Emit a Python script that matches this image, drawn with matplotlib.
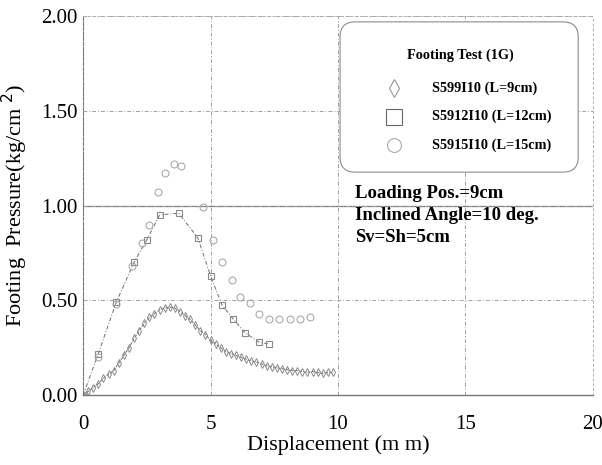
import matplotlib
matplotlib.use("Agg")
import matplotlib.pyplot as plt
from matplotlib.patches import FancyBboxPatch

# ---- data ----
x_l9 = [0, 0.2, 0.4, 0.6, 0.8, 1.0, 1.2, 1.4, 1.6, 1.8, 2.0, 2.2, 2.4, 2.6, 2.8, 3.0,
        3.2, 3.4, 3.6, 3.8, 4.0, 4.2, 4.4, 4.6, 4.8, 5.0, 5.2, 5.4, 5.6, 5.8, 6.0, 6.2,
        6.4, 6.6, 6.8, 7.0, 7.2, 7.4, 7.6, 7.8, 8.0, 8.2, 8.4, 8.6, 8.8, 9.0, 9.2, 9.4,
        9.6, 9.8]
p_l9 = [0, 0.02, 0.04, 0.06, 0.09, 0.11, 0.13, 0.17, 0.21, 0.25, 0.30, 0.34, 0.38, 0.41,
        0.43, 0.45, 0.46, 0.465, 0.46, 0.44, 0.42, 0.40, 0.37, 0.34, 0.32, 0.29, 0.27,
        0.25, 0.23, 0.22, 0.21, 0.20, 0.19, 0.18, 0.175, 0.165, 0.155, 0.15, 0.145, 0.14,
        0.135, 0.13, 0.13, 0.125, 0.12, 0.125, 0.12, 0.115, 0.12, 0.12]

x_l12 = [0, 0.6, 1.3, 2.0, 2.5, 3.0, 3.75, 4.5, 5.0, 5.45, 5.9, 6.35, 6.9, 7.3]
p_l12 = [0, 0.22, 0.49, 0.70, 0.82, 0.95, 0.96, 0.83, 0.63, 0.475, 0.40, 0.33, 0.28, 0.27]

x_l15 = [0, 0.6, 1.3, 1.9, 2.3, 2.6, 2.95, 3.2, 3.55, 3.85, 4.7, 5.1, 5.45, 5.85, 6.15,
         6.55, 6.9, 7.3, 7.7, 8.1, 8.5, 8.9]
p_l15 = [0, 0.20, 0.48, 0.68, 0.80, 0.90, 1.07, 1.17, 1.22, 1.21, 0.99, 0.82, 0.70, 0.61,
         0.52, 0.485, 0.43, 0.40, 0.40, 0.40, 0.40, 0.41]

labels = ["S599I10 (L=9cm)", "S5912I10 (L=12cm)", "S5915I10 (L=15cm)"]
legend_title = "Footing Test (1G)"
notes = ["Loading Pos.=9cm", "Inclined Angle=10 deg.", "Sv=Sh=5cm"]
xticks = [0, 5, 10, 15, 20]
yticks = [0.0, 0.5, 1.0, 1.5, 2.0]

plt.rcParams['font.family'] = ['Liberation Serif', 'DejaVu Serif']

fig = plt.figure(figsize=(6.02, 4.65), dpi=100)
ax = fig.add_axes([0.138, 0.150, 0.847, 0.816])

mk = '#8a8a8a'
ln = '#6a6a6a'
ax.plot(x_l9, p_l9, linestyle=(0, (3, 1.5)), color=ln, lw=0.7,
        marker='d', ms=4, mfc='none', mec=mk, mew=0.7)
ax.plot(x_l12, p_l12, linestyle=(0, (4, 2, 1, 2)), color=ln, lw=0.7,
        marker='s', ms=5, mfc='none', mec=mk, mew=0.8)
ax.plot(x_l15, p_l15, linestyle='none', color=ln, lw=0.7,
        marker='o', ms=5, mfc='none', mec='#a0a0a0', mew=0.7)

ax.set_xlim(0, 20)
ax.set_ylim(0, 2.0)
ax.set_xticks(xticks)
ax.set_xticklabels([str(t) for t in xticks])
ax.set_yticks(yticks)
ax.set_yticklabels([f"{t:.2f}" for t in yticks])
ax.tick_params(length=0, labelsize=15)
ax.tick_params(axis='x', pad=14)
ax.tick_params(axis='y', pad=4)

ax.grid(True, color='#a0a0a0', linestyle=(0, (4, 2, 1, 2)), lw=0.7)
ax.axhline(1.0, color='#777777', lw=0.9, zorder=0.5)
for s in ['top', 'right']:
    ax.spines[s].set_color('#b0b0b0')
    ax.spines[s].set_linestyle((0, (2, 3)))
    ax.spines[s].set_linewidth(0.7)
ax.spines['left'].set_color('#777777')
ax.spines['left'].set_linestyle((0, (3, 1.5)))
ax.spines['left'].set_linewidth(0.8)
ax.spines['bottom'].set_color('#777777')
ax.spines['bottom'].set_linewidth(1.0)

ax.set_xlabel("Displacement (m m)", fontsize=16, labelpad=1)
ax.set_ylabel("Footing  Pressure(kg/cm$^{\\ 2}$)", fontsize=16, labelpad=8)

# ---- legend box (manual, to match the reference layout) ----
box = FancyBboxPatch((0.504, 0.588), 0.467, 0.396, transform=ax.transAxes,
                     boxstyle='round,pad=0,rounding_size=0.03', mutation_aspect=1.3,
                     fc='white', ec='#8c8c8c', lw=0.8, zorder=4, clip_on=False)
ax.add_patch(box)
ax.text(0.739, 0.897, legend_title, transform=ax.transAxes, fontsize=10.3,
        fontweight='bold', ha='center', va='center', zorder=5)
styles = [dict(marker='d', ms=9, mec='#999999'),
          dict(marker='s', ms=11, mec='#666666'),
          dict(marker='o', ms=10, mec='#aaaaaa')]
ys = [0.810, 0.734, 0.660]
for lab, st, yy in zip(labels, styles, ys):
    ax.plot([0.610], [yy], transform=ax.transAxes, linestyle='none', mfc='none',
            mew=0.8, zorder=5, clip_on=False, **st)
    ax.text(0.684, yy, lab, transform=ax.transAxes, fontsize=10.3, fontweight='bold',
            ha='left', va='center', zorder=5)

for i, note in enumerate(notes):
    ax.text(0.533, 0.533 - i * 0.058, note, transform=ax.transAxes, fontsize=13.5,
            fontweight='bold', va='center', ha='left')

fig.savefig("out.png", dpi=100)
